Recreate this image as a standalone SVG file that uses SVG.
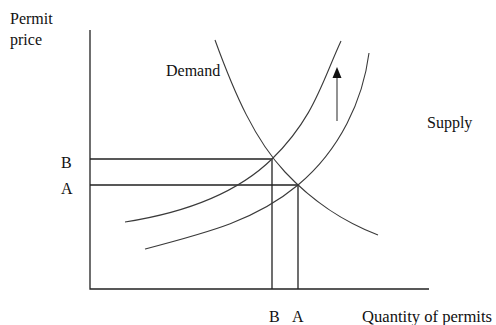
<svg xmlns="http://www.w3.org/2000/svg" width="496" height="325" viewBox="0 0 496 325">
<style>
.ax{stroke:#222;stroke-width:1.3;fill:none}
.cv{stroke:#3a3a3a;stroke-width:1.1;fill:none}
.t{font-family:"Liberation Serif","Times New Roman",serif;font-size:16px;fill:#111}
</style>
<rect width="496" height="325" fill="#fff"/>
<g id="axes">
<path class="ax" d="M90,30 V289 H429"/>
</g>
<g id="connectors">
<path class="ax" d="M90,159 H272 V289"/>
<path class="ax" d="M90,185 H298 V289"/>
<path class="cv" d="M337,121 V76" stroke="#777"/>
<polygon points="337,67 332.5,78 341.5,78" fill="#111"/>
</g>
<g id="demand">
<path class="cv" d="M215,40 C235,95 255,140 285,172 S345,222 378,235"/>
<text class="t" x="166" y="76">Demand</text>
</g>
<g id="supply1">
<path class="cv" d="M125,222 C170,215 230,200 272,159 S322,82 341,41"/>
</g>
<g id="supply2">
<path class="cv" d="M145,249 C210,232 256,220 298,185 C340,150 363,100 369,53"/>
</g>
<g id="labels">
<text class="t" x="10" y="24">Permit</text>
<text class="t" x="10" y="45">price</text>
<text class="t" x="427" y="128">Supply</text>
<text class="t" x="61" y="168">B</text>
<text class="t" x="61" y="194">A</text>
<text class="t" x="269" y="322">B</text>
<text class="t" x="292" y="322">A</text>
<text class="t" x="362" y="322" style="font-size:16.6px">Quantity of permits</text>
</g>
</svg>
